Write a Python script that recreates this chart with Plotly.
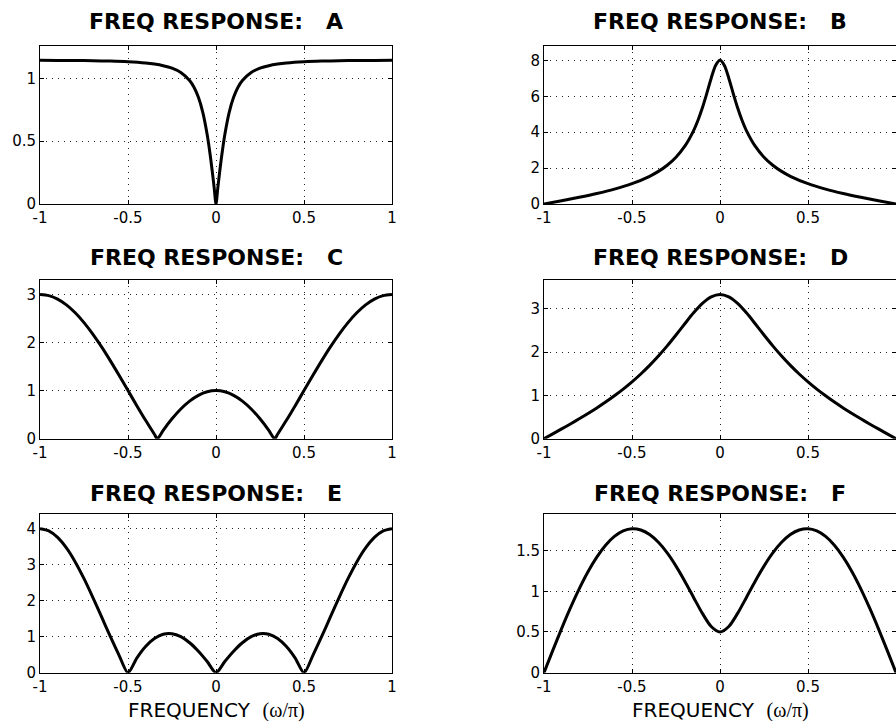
import plotly.graph_objects as go
from plotly.subplots import make_subplots

# ---------------- data ----------------
panel_labels = ["A", "B", "C", "D", "E", "F"]

freq_a = [-1.0, -0.9, -0.8, -0.7, -0.6, -0.5, -0.4, -0.35, -0.3, -0.25, -0.2, -0.15, -0.125, -0.1,
          -0.075, -0.05, -0.04, -0.03, -0.02, -0.01, 0.0, 0.01, 0.02, 0.03, 0.04, 0.05, 0.075,
          0.1, 0.125, 0.15, 0.2, 0.25, 0.3, 0.35, 0.4, 0.5, 0.6, 0.7, 0.8, 0.9, 1.0]
mag_a = [1.1429, 1.1426, 1.1416, 1.1398, 1.1368, 1.1314, 1.1214, 1.1130, 1.1004, 1.0804, 1.0462,
         0.9821, 0.9283, 0.8486, 0.7291, 0.5515, 0.4606, 0.3582, 0.2455, 0.1249, 0.0, 0.1249,
         0.2455, 0.3582, 0.4606, 0.5515, 0.7291, 0.8486, 0.9283, 0.9821, 1.0462, 1.0804, 1.1004,
         1.1130, 1.1214, 1.1314, 1.1368, 1.1398, 1.1416, 1.1426, 1.1429]

freq_b = [-1.0, -0.9, -0.8, -0.7, -0.6, -0.5, -0.4, -0.35, -0.3, -0.25, -0.2, -0.15, -0.125, -0.1,
          -0.075, -0.05, -0.025, 0.0, 0.025, 0.05, 0.075, 0.1, 0.125, 0.15, 0.2, 0.25, 0.3, 0.35,
          0.4, 0.5, 0.6, 0.7, 0.8, 0.9, 1.0]
mag_b = [0.0, 0.1810, 0.3709, 0.5808, 0.8259, 1.1314, 1.5435, 1.8163, 2.1597, 2.6083, 3.2199,
         4.0909, 4.6667, 5.3581, 6.1605, 7.0070, 7.7136, 8.0, 7.7136, 7.0070, 6.1605, 5.3581,
         4.6667, 4.0909, 3.2199, 2.6083, 2.1597, 1.8163, 1.5435, 1.1314, 0.8259, 0.5808, 0.3709,
         0.1810, 0.0]

freq_c = [-1.0, -0.95, -0.9, -0.85, -0.8, -0.75, -0.7, -0.65, -0.6, -0.55, -0.5, -0.45, -0.4,
          -0.35, -0.3333, -0.3, -0.25, -0.2, -0.15, -0.1, -0.05, 0.0, 0.05, 0.1, 0.15, 0.2, 0.25,
          0.3, 0.3333, 0.35, 0.4, 0.45, 0.5, 0.55, 0.6, 0.65, 0.7, 0.75, 0.8, 0.85, 0.9, 0.95, 1.0]
mag_c = [3.0, 2.9754, 2.9021, 2.7820, 2.6180, 2.4142, 2.1756, 1.9080, 1.6180, 1.3129, 1.0, 0.6871,
         0.3820, 0.0920, 0.0, 0.1756, 0.4142, 0.6180, 0.7820, 0.9021, 0.9754, 1.0, 0.9754, 0.9021,
         0.7820, 0.6180, 0.4142, 0.1756, 0.0, 0.0920, 0.3820, 0.6871, 1.0, 1.3129, 1.6180, 1.9080,
         2.1756, 2.4142, 2.6180, 2.7820, 2.9021, 2.9754, 3.0]

freq_d = [-1.0, -0.95, -0.9, -0.85, -0.8, -0.75, -0.7, -0.65, -0.6, -0.55, -0.5, -0.45, -0.4,
          -0.35, -0.3, -0.25, -0.2, -0.15, -0.1, -0.05, 0.0, 0.05, 0.1, 0.15, 0.2, 0.25, 0.3,
          0.35, 0.4, 0.45, 0.5, 0.55, 0.6, 0.65, 0.7, 0.75, 0.8, 0.85, 0.9, 0.95, 1.0]
mag_d = [0.0, 0.1124, 0.2257, 0.3412, 0.4597, 0.5826, 0.7111, 0.8467, 0.9910, 1.1458, 1.3131,
         1.4950, 1.6936, 1.9104, 2.1456, 2.3968, 2.6563, 2.9081, 3.1266, 3.2785, 3.3333, 3.2785,
         3.1266, 2.9081, 2.6563, 2.3968, 2.1456, 1.9104, 1.6936, 1.4950, 1.3131, 1.1458, 0.9910,
         0.8467, 0.7111, 0.5826, 0.4597, 0.3412, 0.2257, 0.1124, 0.0]

freq_e = [-1.0, -0.95, -0.9, -0.85, -0.8, -0.75, -0.7, -0.65, -0.6, -0.55, -0.5, -0.45, -0.4,
          -0.35, -0.3, -0.25, -0.2, -0.15, -0.1, -0.05, 0.0, 0.05, 0.1, 0.15, 0.2, 0.25, 0.3,
          0.35, 0.4, 0.45, 0.5, 0.55, 0.6, 0.65, 0.7, 0.75, 0.8, 0.85, 0.9, 0.95, 1.0]
mag_e = [4.0, 3.9386, 3.7574, 3.4656, 3.0777, 2.6131, 2.0949, 1.5484, 1.0, 0.4758, 0.0, 0.4064,
         0.7265, 0.9488, 1.0674, 1.0824, 1.0, 0.8320, 0.5951, 0.3100, 0.0, 0.3100, 0.5951, 0.8320,
         1.0, 1.0824, 1.0674, 0.9488, 0.7265, 0.4064, 0.0, 0.4758, 1.0, 1.5484, 2.0949, 2.6131,
         3.0777, 3.4656, 3.7574, 3.9386, 4.0]

freq_f = [-1.0, -0.95, -0.9, -0.85, -0.8, -0.75, -0.7, -0.65, -0.6, -0.55, -0.5, -0.45, -0.4,
          -0.35, -0.3, -0.25, -0.2, -0.15, -0.1, -0.05, 0.0, 0.05, 0.1, 0.15, 0.2, 0.25, 0.3,
          0.35, 0.4, 0.45, 0.5, 0.55, 0.6, 0.65, 0.7, 0.75, 0.8, 0.85, 0.9, 0.95, 1.0]
mag_f = [0.0, 0.2738, 0.5409, 0.7950, 1.0297, 1.2396, 1.4195, 1.5652, 1.6733, 1.7413, 1.7678,
         1.7525, 1.6962, 1.6011, 1.4704, 1.3090, 1.1237, 0.9245, 0.7283, 0.5673, 0.5, 0.5673,
         0.7283, 0.9245, 1.1237, 1.3090, 1.4704, 1.6011, 1.6962, 1.7525, 1.7678, 1.7413, 1.6733,
         1.5652, 1.4195, 1.2396, 1.0297, 0.7950, 0.5409, 0.2738, 0.0]

x_tickvals = [-1, -0.5, 0, 0.5, 1]
x_ticktext = ["-1", "-0.5", "0", "0.5", "1"]

y_tickvals_a = [0, 0.5, 1]
y_ticktext_a = ["0", "0.5", "1"]
y_tickvals_b = [0, 2, 4, 6, 8]
y_ticktext_b = ["0", "2", "4", "6", "8"]
y_tickvals_c = [0, 1, 2, 3]
y_ticktext_c = ["0", "1", "2", "3"]
y_tickvals_d = [0, 1, 2, 3]
y_ticktext_d = ["0", "1", "2", "3"]
y_tickvals_e = [0, 1, 2, 3, 4]
y_ticktext_e = ["0", "1", "2", "3", "4"]
y_tickvals_f = [0, 0.5, 1, 1.5]
y_ticktext_f = ["0", "0.5", "1", "1.5"]

y_max = [1.257, 8.8, 3.3, 3.667, 4.4, 1.945]

title_prefix = "FREQ RESPONSE:   "
xlabel_text = "FREQUENCY  "
xlabel_symbol = "(ω/π)"

# ---------------- figure ----------------
W, H = 896, 721
series = [(freq_a, mag_a), (freq_b, mag_b), (freq_c, mag_c),
          (freq_d, mag_d), (freq_e, mag_e), (freq_f, mag_f)]
yticks = [(y_tickvals_a, y_ticktext_a), (y_tickvals_b, y_ticktext_b),
          (y_tickvals_c, y_ticktext_c), (y_tickvals_d, y_ticktext_d),
          (y_tickvals_e, y_ticktext_e), (y_tickvals_f, y_ticktext_f)]

col_px = [(40, 392), (544, 896)]
row_px = [(46, 204), (280, 438.7), (514.3, 672.7)]
title_cy = [21.5, 257, 493]
xlabel_cy = 710

fig = make_subplots(rows=3, cols=2)

FONT = "DejaVu Sans, Liberation Sans, Arial, sans-serif"
annotations = []
for i, (xs, ys) in enumerate(series):
    r, c = divmod(i, 2)
    fig.add_trace(go.Scatter(x=xs, y=ys, mode="lines",
                             line=dict(color="black", width=3, shape="spline", smoothing=0.8),
                             showlegend=False, hoverinfo="skip"),
                  row=r + 1, col=c + 1)
    x0, x1 = col_px[c]
    y0, y1 = row_px[r]
    xd = [x0 / W, min(x1 / W, 1.0)]
    yd = [1 - y1 / H, 1 - y0 / H]
    n = "" if i == 0 else str(i + 1)
    fig.layout["xaxis" + n].update(
        domain=xd, range=[-1, 1], tickvals=x_tickvals, ticktext=x_ticktext,
        automargin=False,
        showgrid=True, gridcolor="#222222", gridwidth=1, griddash="1px,5px",
        zeroline=False, showline=True, linecolor="black", linewidth=1, mirror="ticks",
        ticks="inside", ticklen=4, tickcolor="black",
        tickfont=dict(family=FONT, size=15, color="black"))
    tv, tt = yticks[i]
    fig.layout["yaxis" + n].update(
        domain=yd, range=[0, y_max[i]], tickvals=tv, ticktext=tt,
        automargin=False,
        showgrid=True, gridcolor="#222222", gridwidth=1, griddash="1px,5px",
        zeroline=False, showline=True, linecolor="black", linewidth=1, mirror="ticks",
        ticks="inside", ticklen=4, tickcolor="black",
        tickfont=dict(family=FONT, size=15, color="black"))
    annotations.append(dict(
        text="<b>" + title_prefix + panel_labels[i] + "</b>",
        x=(x0 + x1) / 2 / W, y=1 - title_cy[r] / H, xref="paper", yref="paper",
        xanchor="center", yanchor="middle", showarrow=False,
        font=dict(family=FONT, size=22, color="black")))
    if r == 2:
        annotations.append(dict(
            text=xlabel_text + "<span style=\"font-family:'Liberation Serif', 'DejaVu Serif', serif\">"
                 + xlabel_symbol + "</span>",
            x=(x0 + x1) / 2 / W, y=1 - xlabel_cy / H, xref="paper", yref="paper",
            xanchor="center", yanchor="middle", showarrow=False,
            font=dict(family=FONT, size=20, color="black")))

fig.update_layout(
    width=W, height=H, margin=dict(l=0, r=0, t=0, b=0, autoexpand=False),
    paper_bgcolor="white", plot_bgcolor="white",
    annotations=annotations, showlegend=False)

fig.write_html("out.html",
               config={"displayModeBar": False, "staticPlot": True},
               post_script="document.body.style.margin='0';document.body.style.overflow='hidden';")
